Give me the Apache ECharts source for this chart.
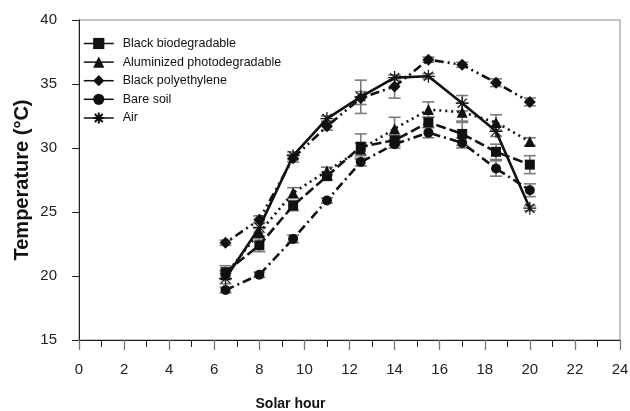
<!DOCTYPE html>
<html>
<head>
<meta charset="utf-8">
<script src="https://cdn.jsdelivr.net/npm/echarts@6/dist/echarts.min.js"></script>
<style>
	html, body { margin: 0; padding: 0; background: #fff; }
	#container { width: 630px; height: 411px; }
</style>
</head>
<body>
<div id="container"></div>
<script>
	// solar hours of the measurements
	var hours = [6.5, 8, 9.5, 11, 12.5, 14, 15.5, 17, 18.5, 20];

	var blackBio = [20.3, 22.4, 25.5, 27.8, 30.1, 30.6, 32.0, 31.1, 29.7, 28.7];
	var aluPhoto = [20.1, 23.4, 26.5, 28.2, 29.9, 31.5, 33.0, 32.8, 32.0, 30.5];
	var blackPoly = [22.6, 24.4, 29.2, 31.7, 33.9, 34.8, 36.9, 36.5, 35.1, 33.6];
	var bareSoil = [18.9, 20.1, 22.9, 25.9, 28.9, 30.3, 31.2, 30.4, 28.4, 26.7];
	var air = [19.8, 23.8, 29.4, 32.3, 34.0, 35.5, 35.6, 33.5, 31.3, 25.3];

	// error bars (+/-)
	var blackBioErr = [0.5, 0.5, 0.4, 0.3, 1.0, 0.4, 0.4, 0.9, 0.6, 0.7];
	var aluPhotoErr = [0.3, 0.3, 0.4, 0.3, 0.5, 0.9, 0.6, 0.7, 0.6, 0.3];
	var blackPolyErr = [0.2, 0.3, 0.3, 0.3, 0.5, 0.9, 0.2, 0.2, 0.3, 0.3];
	var bareSoilErr = [0.2, 0.2, 0.3, 0.2, 0.3, 0.3, 0.4, 0.4, 0.6, 0.5];
	var airErr = [0.4, 0.4, 0.3, 0.2, 1.3, 0.2, 0.2, 0.6, 0.4, 0.2];

	var xTicks = [0, 24, 2];
	var yTicks = [15, 40, 5];

	var starPath = 'path://M0,5L10,5M5,0L5,10M1.5,1.5L8.5,8.5M8.5,1.5L1.5,8.5';
	var font = "'Liberation Sans', Arial, sans-serif";

	function pairs(ys, errs) {
		var out = [];
		for (var i = 0; i < hours.length; i++) {
			out.push(errs ? [hours[i], ys[i], errs[i]] : [hours[i], ys[i]]);
		}
		return out;
	}

	function errorSeries(ys, errs) {
		return {
			type: 'custom',
			silent: true,
			z: 1,
			data: pairs(ys, errs),
			renderItem: function (params, api) {
				var x = api.value(0), y = api.value(1), e = api.value(2);
				var hi = api.coord([x, y + e]);
				var lo = api.coord([x, y - e]);
				var w = 6;
				var st = { stroke: '#7a7a7a', lineWidth: 1.6 };
				return {
					type: 'group',
					children: [
						{ type: 'line', shape: { x1: hi[0], y1: hi[1], x2: lo[0], y2: lo[1] }, style: st },
						{ type: 'line', shape: { x1: hi[0] - w, y1: hi[1], x2: hi[0] + w, y2: hi[1] }, style: st },
						{ type: 'line', shape: { x1: lo[0] - w, y1: lo[1], x2: lo[0] + w, y2: lo[1] }, style: st }
					]
				};
			}
		};
	}

	function lineSeries(name, ys, symbol, size, dash) {
		return {
			name: name,
			type: 'line',
			z: 3,
			data: pairs(ys),
			symbol: symbol,
			symbolSize: size,
			showAllSymbol: true,
			lineStyle: { color: '#111', width: 2.6, type: dash },
			itemStyle: { color: '#111', borderColor: '#111', borderWidth: symbol === starPath ? 1.2 : 0 }
		};
	}

	var chart = echarts.init(document.getElementById('container'));
	chart.setOption({
		animation: false,
		grid: {
			left: 79, right: 10, top: 20, bottom: 71,
			containLabel: false, outerBoundsMode: 'none',
			show: true, borderColor: '#8a8a8a', borderWidth: 1
		},
		legend: {
			orient: 'vertical',
			left: 78,
			top: 32,
			itemWidth: 30,
			itemHeight: 14,
			itemGap: 5.6,
			data: ['Black biodegradable', 'Aluminized photodegradable', 'Black polyethylene', 'Bare soil', 'Air'],
			lineStyle: { type: 'solid', width: 1.5 },
			textStyle: { fontSize: 12.5, color: '#111', fontFamily: font, padding: [0, 0, 0, 4] }
		},
		xAxis: {
			type: 'value',
			min: xTicks[0],
			max: xTicks[1],
			interval: xTicks[2],
			name: 'Solar hour',
			nameLocation: 'middle',
			nameGap: 57,
			nameMoveOverlap: false,
			nameTextStyle: { fontSize: 14, fontWeight: 'bold', color: '#111', fontFamily: font, padding: [0, 118, 0, 0] },
			axisLine: { lineStyle: { color: '#222', width: 1 } },
			axisTick: { length: 10, lineStyle: { color: '#777', width: 1.3 } },
			minorTick: { show: true, splitNumber: 2, length: 7, lineStyle: { color: '#222', width: 1 } },
			axisLabel: { fontSize: 15, color: '#222', margin: 22, fontFamily: font },
			splitLine: { show: false }
		},
		yAxis: {
			type: 'value',
			min: yTicks[0],
			max: yTicks[1],
			interval: yTicks[2],
			name: 'Temperature (°C)',
			nameLocation: 'middle',
			nameGap: 47,
			nameMoveOverlap: false,
			nameTextStyle: { fontSize: 20, fontWeight: 'bold', color: '#111', fontFamily: font },
			axisLine: { show: true, lineStyle: { color: '#222', width: 1 } },
			axisTick: { show: true, length: 7, lineStyle: { color: '#222' } },
			axisLabel: { fontSize: 15, color: '#222', margin: 22, fontFamily: font },
			splitLine: { show: false }
		},
		series: [
			errorSeries(blackBio, blackBioErr),
			errorSeries(aluPhoto, aluPhotoErr),
			errorSeries(blackPoly, blackPolyErr),
			errorSeries(bareSoil, bareSoilErr),
			errorSeries(air, airErr),
			lineSeries('Black biodegradable', blackBio, 'rect', 10, [10, 4]),
			lineSeries('Aluminized photodegradable', aluPhoto, 'triangle', 11, [2, 4]),
			lineSeries('Black polyethylene', blackPoly, 'diamond', 12, [2, 4, 2, 4, 9, 4]),
			lineSeries('Bare soil', bareSoil, 'circle', 10, [9, 4, 2, 4]),
			lineSeries('Air', air, starPath, 13, 'solid')
		]
	});
</script>
</body>
</html>
